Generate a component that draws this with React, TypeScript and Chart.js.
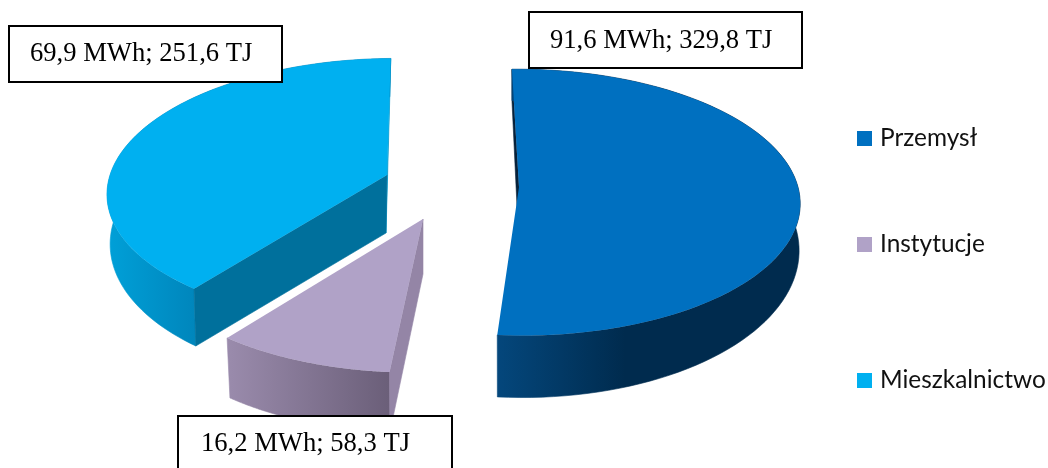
import React, { useEffect, useRef } from "react";
import { Chart, registerables } from "chart.js";

Chart.register(...registerables);

// ---- data ----
const categories = ["Przemysł", "Instytucje", "Mieszkalnictwo"];
const mwhValues = [91.6, 16.2, 69.9];
const tjValues = [329.8, 58.3, 251.6];
const topColors = ["#0070C0", "#B0A2C7", "#00B0F0"];

// ---- 3D look: one perspective projection per exploded slice ----
const PERSPECTIVE = 0.115;
const sliceViews = [
  { ax: 519, ay: 187, A: 279, B: 131.4, sh: 3, dx: 0, dy: 45, wallScale: 0.996, wallB: 146.5, cutDy: 61,
    wall: [[497, "#04477C"], [625, "#002B4E"]], startCut: "#06213A", endCut: null, startCutOnTop: false },
  { ax: 423, ay: 219, A: 284, B: 136, sh: -7, dx: 0, dy: 60, wallScale: 0.985, wallB: 136, cutDy: 55,
    wall: [[228, "#9A8BAC"], [392, "#6A5E78"]], startCut: "#9485A6", endCut: null, startCutOnTop: true },
  { ax: 387, ay: 175, A: 277, B: 130, sh: -9, dx: -1, dy: 48, wallScale: 0.985, wallB: 140.7, cutDy: 58,
    wall: [[107, "#00A0D8"], [195, "#0086BC"]], startCut: "#00709C", endCut: "#0098CC", startCutOnTop: true },
];
const drawOrder = [0, 2, 1];

const labelBoxes = [
  { x: 529, y: 12, w: 273, h: 56, tx: 550, ty: 48 },
  { x: 178, y: 416, w: 274, h: 60, tx: 201, ty: 451 },
  { x: 9, y: 26, w: 273, h: 56, tx: 30, ty: 61 },
];
const legendRows = [{ base: 146 }, { base: 252 }, { base: 388 }];
const LEGEND_X = 857;
const LEGEND_TEXT_X = 880;

const fmt = (v: number) => v.toFixed(1).replace(".", ",");

function project(v: any, X: number, Y: number, bottom: boolean) {
  const w = 1 - PERSPECTIVE * Y;
  const s = bottom ? v.wallScale : 1;
  const B = bottom ? v.wallB : v.B;
  return {
    x: v.ax + (bottom ? v.dx : 0) + (v.A * s * X) / w + (v.sh * Y) / w,
    y: v.ay + (bottom ? v.dy : 0) + (B * Y) / w,
  };
}

function polygon(ctx: CanvasRenderingContext2D, pts: { x: number; y: number }[], fill: any) {
  ctx.beginPath();
  pts.forEach((p, i) => (i ? ctx.lineTo(p.x, p.y) : ctx.moveTo(p.x, p.y)));
  ctx.closePath();
  ctx.fillStyle = fill;
  ctx.fill();
  // seal antialiasing seams between adjoining faces
  ctx.strokeStyle = fill;
  ctx.lineWidth = 0.6;
  ctx.stroke();
}

function drawWalls(ctx: CanvasRenderingContext2D, arc: any, v: any) {
  const a0 = arc.startAngle;
  const a1 = arc.endAngle;
  const top = (a: number) => project(v, Math.cos(a), Math.sin(a), false);
  const bot = (a: number) => project(v, Math.cos(a), Math.sin(a), true);
  const apexTop = project(v, 0, 0, false);
  const apexBot = { x: apexTop.x + v.dx, y: apexTop.y + v.cutDy };
  const cut = (a: number, color: string) => polygon(ctx, [apexTop, top(a), bot(a), apexBot], color);

  if (v.endCut) cut(a1, v.endCut);
  if (v.startCut && !v.startCutOnTop) cut(a0, v.startCut);

  // outer wall
  const n = 90;
  const upper: any[] = [];
  const lower: any[] = [];
  for (let i = 0; i <= n; i++) {
    const a = a0 + ((a1 - a0) * i) / n;
    upper.push(top(a));
    lower.unshift(bot(a));
  }
  const g = ctx.createLinearGradient(v.wall[0][0], 0, v.wall[1][0], 0);
  g.addColorStop(0, v.wall[0][1]);
  g.addColorStop(1, v.wall[1][1]);
  polygon(ctx, upper.concat(lower), g);

  if (v.startCut && v.startCutOnTop) cut(a0, v.startCut);
}

// Lets the library's ArcElement draw itself, with its path sent through the projection.
function drawArcProjected(ctx: any, arc: any, v: any) {
  const R = arc.outerRadius;
  const cx = arc.x;
  const cy = arc.y;
  const proto = CanvasRenderingContext2D.prototype;
  const line = (X: number, Y: number) => {
    const p = project(v, X, Y, false);
    proto.lineTo.call(ctx, p.x, p.y);
  };
  ctx.arc = (_x: number, _y: number, r: number, s: number, e: number, ccw?: boolean) => {
    let end = e;
    if (!ccw && end < s) end += Math.PI * 2;
    if (ccw && end > s) end -= Math.PI * 2;
    const n = 120;
    for (let i = 0; i <= n; i++) {
      const a = s + ((end - s) * i) / n;
      line((r / R) * Math.cos(a), (r / R) * Math.sin(a));
    }
  };
  ctx.lineTo = (x: number, y: number) => line((x - cx) / R, (y - cy) / R);
  arc.draw(ctx);
  delete ctx.arc;
  delete ctx.lineTo;
}

const pie3d = {
  id: "pie3d",
  beforeDatasetsDraw(chart: any) {
    const ctx = chart.ctx;
    const arcs = chart.getDatasetMeta(0).data;
    ctx.save();
    for (const i of drawOrder) {
      drawWalls(ctx, arcs[i], sliceViews[i]);
      drawArcProjected(ctx, arcs[i], sliceViews[i]);
    }
    ctx.restore();
    return false;
  },
  afterDraw(chart: any) {
    const ctx = chart.ctx;
    ctx.save();
    // boxed value labels
    labelBoxes.forEach((b, i) => {
      ctx.fillStyle = "#FFFFFF";
      ctx.fillRect(b.x, b.y, b.w, b.h);
      ctx.strokeStyle = "#000000";
      ctx.lineWidth = 2;
      ctx.strokeRect(b.x, b.y, b.w, b.h);
      ctx.fillStyle = "#000000";
      ctx.font = '26.6px "Liberation Serif"';
      ctx.textBaseline = "alphabetic";
      ctx.textAlign = "left";
      ctx.fillText(`${fmt(mwhValues[i])} MWh; ${fmt(tjValues[i])} TJ`, b.tx, b.ty);
    });
    // legend
    categories.forEach((c, i) => {
      const r = legendRows[i];
      ctx.fillStyle = topColors[i];
      ctx.fillRect(LEGEND_X, r.base - 15, 15, 15);
      ctx.fillStyle = "#111111";
      ctx.font = "24.4px Lato";
      ctx.fillText(c, LEGEND_TEXT_X, r.base);
    });
    ctx.restore();
  },
};

export default function App() {
  const ref = useRef<HTMLCanvasElement>(null);
  useEffect(() => {
    document.body.style.margin = "0";
    const chart = new Chart(ref.current as HTMLCanvasElement, {
      type: "pie",
      data: {
        labels: categories,
        datasets: [{ data: mwhValues, backgroundColor: topColors, borderWidth: 0 }],
      },
      options: {
        responsive: false,
        animation: false,
        rotation: -1,
        plugins: { legend: { display: false }, tooltip: { enabled: false } },
      },
      plugins: [pie3d],
    } as any);
    return () => chart.destroy();
  }, []);
  return <canvas ref={ref} width={1048} height={468} style={{ display: "block" }} />;
}
